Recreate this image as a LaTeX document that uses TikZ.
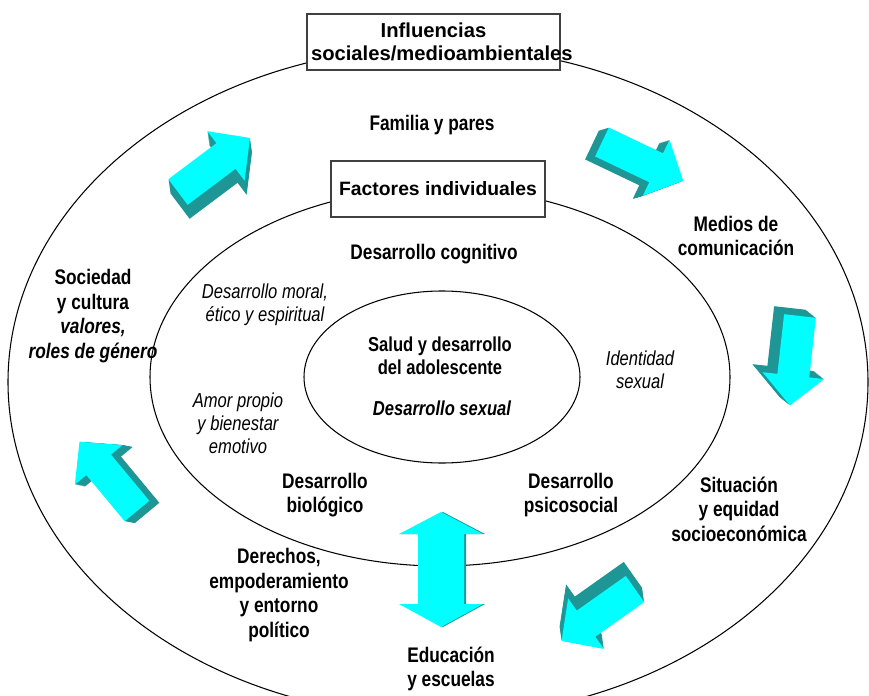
\documentclass[tikz,border=0pt]{standalone}
\usepackage{fontspec}
\setmainfont{Liberation Sans}
\newfontfamily\narrowfont{Liberation Sans}[FakeStretch=0.82]

\definecolor{arrowface}{RGB}{0,255,255}
\definecolor{arrowside}{RGB}{30,150,150}

% block arrow: tail x, tail y, angle, depth dx, depth dy
\newcommand{\arrowshape}{(0,-16) -- (60,-16) -- (60,-31) -- (90,0) -- (60,31) -- (60,16) -- (0,16) -- cycle}
\newcommand{\blockarrow}[5]{%
  \foreach \k in {1,...,14}
    \fill[arrowside, shift={(#1,#2)}, shift={(\k*#4/14,\k*#5/14)}, rotate=#3] \arrowshape;
  \fill[arrowface, shift={(#1,#2)}, rotate=#3] \arrowshape;
}

\tikzset{
  ring/.style={line width=0.6pt},
  titlebox/.style={draw=black!75, line width=0.8pt, fill=white, align=center,
    inner sep=0.08cm, font=\bfseries\fontsize{11.5}{13.5}\selectfont},
  lbl/.style={align=center, font=\narrowfont\bfseries\fontsize{12}{14}\selectfont},
  ital/.style={align=center, font=\narrowfont\itshape\fontsize{11.5}{13}\selectfont}
}

\begin{document}
\begin{tikzpicture}[x=0.02cm,y=-0.02cm]
    \useasboundingbox (0,0) rectangle (869,696);

    % ellipses
    \draw[ring] (438,382) ellipse [x radius=430, y radius=335];
    \draw[ring] (440,377) ellipse [x radius=290, y radius=189];
    \draw[ring] (442,377) ellipse [x radius=138, y radius=86];

    % boxes
    \node[titlebox, text width=4.9cm, minimum height=1.12cm] (influencias) at (433.5,42)
        {Influencias\\sociales/medioambientales};
    \node[titlebox, font=\bfseries\fontsize{11}{13}\selectfont, minimum width=4.28cm,
        minimum height=1.12cm] (factores) at (438,189) {Factores individuales};

    % arrows
    \blockarrow{178}{192}{36.9}{2}{14}
    \blockarrow{602}{142}{-25.5}{-10}{3}
    \blockarrow{800}{316}{-96.4}{-10}{-8}
    \blockarrow{635}{589}{-144.7}{-2}{-14}
    \blockarrow{137}{511}{129.7}{10}{2}
    \fill[arrowside, shift={(443,570)}]
        (0,-58) -- (42,-36) -- (23,-36) -- (23,34) -- (42,34) -- (0,57) -- (-42,34)
        -- (-23,34) -- (-23,-36) -- (-42,-36) -- cycle;
    \fill[arrowface, shift={(441,570)}]
        (0,-58) -- (42,-36) -- (23,-36) -- (23,34) -- (42,34) -- (0,57) -- (-42,34)
        -- (-23,34) -- (-23,-36) -- (-42,-36) -- cycle;

    % outer ring
    \node[lbl] (familia) at (432,125) {Familia y pares};
    \node[lbl] (medios) at (736,236) {Medios de\\comunicaci\'on};
    \node[lbl] (situacion) at (739,509) {Situaci\'on\\y equidad\\socioecon\'omica};
    \node[lbl] (educacion) at (451,669) {Educaci\'on\\y escuelas};
    \node[lbl] (derechos) at (279,595) {Derechos,\\empoderamiento\\y entorno\\pol\'itico};
    \node[lbl] (sociedad) at (93,316) {Sociedad\\y cultura\\\textit{valores,}\\\textit{roles de g\'enero}};

    % middle ring
    \node[lbl] (cognitivo) at (434,254) {Desarrollo cognitivo};
    \node[ital] (moral) at (265,305) {Desarrollo moral,\\\'etico y espiritual};
    \node[ital] (identidad) at (640,370) {Identidad\\sexual};
    \node[ital] (amor) at (238,423) {Amor propio\\y bienestar\\emotivo};
    \node[lbl] (biologico) at (325,495) {Desarrollo\\biol\'ogico};
    \node[lbl] (psicosocial) at (571,495) {Desarrollo\\psicosocial};

    % centre
    \node[lbl, font=\narrowfont\bfseries\fontsize{11.5}{13}\selectfont] (salud) at (440,356)
        {Salud y desarrollo\\del adolescente};
    \node[lbl, font=\narrowfont\bfseries\itshape\fontsize{11.5}{13}\selectfont] (sexual) at (442,408)
        {Desarrollo sexual};
\end{tikzpicture}
\end{document}
